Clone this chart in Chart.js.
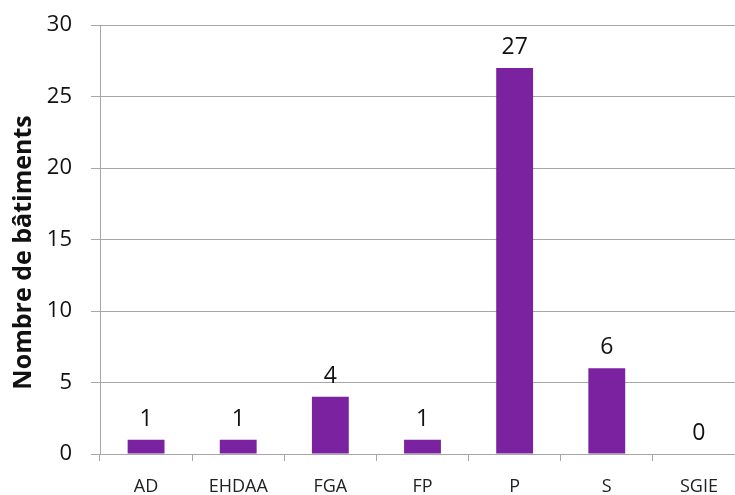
<!DOCTYPE html>
<html>
<head>
<meta charset="utf-8">
<script src="https://cdn.jsdelivr.net/npm/chart.js@4/dist/chart.umd.min.js"></script>
<style>
  html, body { margin: 0; padding: 0; background: #fff; overflow: hidden; }
  #wrap { width: 745px; height: 495px; }
</style>
</head>
<body>
<div id="wrap"><canvas id="c" width="745" height="495"></canvas></div>
<script>
// données
const categories = ["AD", "EHDAA", "FGA", "FP", "P", "S", "SGIE"];
const batiments = [1, 1, 4, 1, 27, 6, 0];
const yTicks = [0, 5, 10, 15, 20, 25, 30];

const FONT = "'Open Sans', 'DejaVu Sans', sans-serif";
const GRID = "#a6a6a6";

// étiquettes au-dessus des barres
const valueLabels = {
  id: "valueLabels",
  afterDatasetsDraw(chart) {
    const ctx = chart.ctx;
    const meta = chart.getDatasetMeta(0);
    ctx.save();
    ctx.font = "23px " + FONT;
    ctx.fillStyle = "#111";
    ctx.textAlign = "center";
    ctx.textBaseline = "alphabetic";
    meta.data.forEach((bar, i) => {
      ctx.fillText(String(batiments[i]), bar.x, bar.y - 14);
    });
    ctx.restore();
  }
};

new Chart(document.getElementById("c"), {
  type: "bar",
  data: {
    labels: categories,
    datasets: [{
      data: batiments,
      backgroundColor: "#7a22a0",
      borderWidth: 0,
      barPercentage: 0.4,
      categoryPercentage: 1
    }]
  },
  options: {
    responsive: false,
    animation: false,
    layout: { padding: { top: 25, right: 0, bottom: 0, left: 0 } },
    plugins: { legend: { display: false }, tooltip: { enabled: false } },
    scales: {
      x: {
        afterFit: s => { s.height = 41; s.paddingLeft = 0; s.paddingRight = 0; },
        grid: { display: true, offset: true, drawOnChartArea: false, drawTicks: true, tickLength: 7, color: GRID },
        border: { display: true, color: GRID },
        ticks: { color: "#222", font: { family: FONT, size: 18 }, padding: 15, maxRotation: 0 }
      },
      y: {
        min: 0,
        max: 30,
        afterFit: s => { s.width = 100; s.paddingTop = 0; s.paddingBottom = 0; },
        afterBuildTicks: s => { s.ticks = yTicks.map(v => ({ value: v })); },
        grid: { color: GRID, tickLength: 9 },
        border: { display: true, color: GRID },
        ticks: { color: "#111", font: { family: FONT, size: 22 }, padding: 19 },
        title: {
          display: true,
          // espaces insécables : décale le titre un peu vers le bas
          text: "Nombre de bâtiments\u00a0\u00a0\u00a0\u00a0",
          color: "#111",
          font: { family: FONT, size: 25, weight: "bold" },
          padding: { top: 9, bottom: 0 }
        }
      }
    }
  },
  plugins: [valueLabels]
});
</script>
</body>
</html>
